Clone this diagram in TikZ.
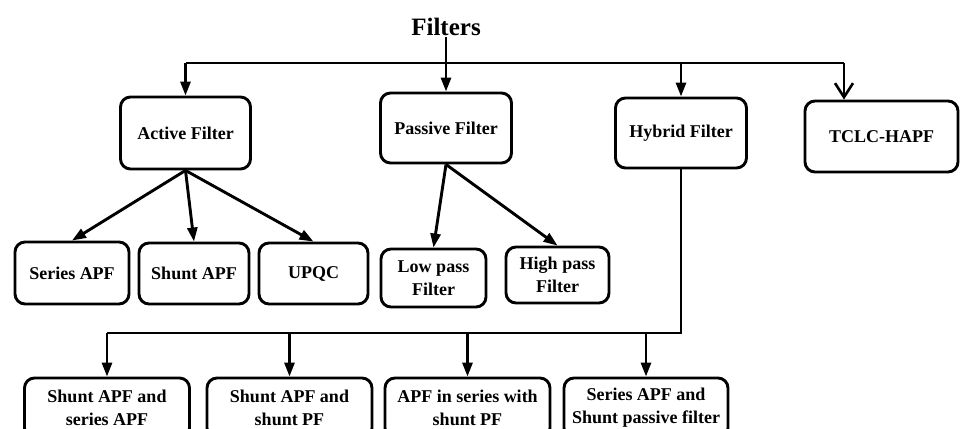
\documentclass[tikz,border=0pt]{standalone}
\usepackage{fontspec}
\setmainfont{Liberation Serif}
\usetikzlibrary{arrows.meta}

\tikzset{
  box/.style={draw, line width=2.9pt, rounded corners=10pt, align=center,
    inner sep=2pt, font=\bfseries\fontsize{18}{23}\selectfont},
  wire/.style={line width=2.9pt},
  arr/.style={wire, -{Triangle[length=14pt,width=10pt]}},
  openarr/.style={wire, -{Straight Barb[length=14pt,width=18pt,line width=2.6pt]}},
  title/.style={font=\bfseries\fontsize{25}{30}\selectfont, inner sep=1pt}
}

\begin{document}
\begin{tikzpicture}[x=1pt, y=-1pt]
  \useasboundingbox (0,0) rectangle (960,428);
  \clip (0,0) rectangle (960,428);

  % root
  \node[title] (filters) at (446,27) {Filters};

  % first level
  \node[box, minimum width=130pt, minimum height=72pt] (active)  at (185.5,133)   {Active Filter};
  \node[box, minimum width=131pt, minimum height=70pt] (passive) at (446,128)     {Passive Filter};
  \node[box, minimum width=131pt, minimum height=70pt] (hybrid)  at (681,133)     {Hybrid Filter};
  \node[box, minimum width=153pt, minimum height=71pt] (tclc)    at (881.5,136.5) {TCLC-HAPF};

  % active filter types
  \node[box, minimum width=114pt, minimum height=62pt] (series) at (72,273)    {Series APF};
  \node[box, minimum width=110pt, minimum height=61pt] (shunt)  at (194,273.5) {Shunt APF};
  \node[box, minimum width=109pt, minimum height=61pt] (upqc)   at (313.5,273.5) {UPQC};

  % passive filter types
  \node[box, minimum width=105pt, minimum height=58pt] (low)  at (433.5,278) {Low pass\\Filter};
  \node[box, minimum width=103pt, minimum height=56pt] (high) at (557.5,275) {High pass\\Filter};

  % hybrid filter types
  \node[box, minimum width=165pt, minimum height=60pt] (hA) at (107,408)   {Shunt APF and\\series APF};
  \node[box, minimum width=165pt, minimum height=60pt] (hB) at (289.5,408) {Shunt APF and\\shunt PF};
  \node[box, minimum width=165pt, minimum height=60pt] (hC) at (467.5,408) {APF in series with\\shunt PF};
  \node[box, minimum width=164pt, minimum height=60pt] (hD) at (646,408)   {Series APF and\\Shunt passive filter};

  % top distribution bus
  \coordinate (busL) at (185.5,63);
  \coordinate (busR) at (844,63);
  \draw[wire] (busL) -- (busR);
  \draw[arr] (filters.south) -- (filters.south |- passive.north);
  \draw[arr] (busL) -- (active.north);
  \draw[arr] (busL -| hybrid.north) -- (hybrid.north);
  \draw[openarr] (busR) -- (busR |- tclc.north);

  % active filter branches
  \draw[arr] (active.south) -- (series.north);
  \draw[arr] (active.south) -- (shunt.north);
  \draw[arr] (active.south) -- (upqc.north);

  % passive filter branches
  \draw[arr] (passive.south) -- (low.north);
  \draw[arr] (passive.south) -- (high.north);

  % hybrid filter bus
  \coordinate (hbus) at (107,333);
  \draw[wire] (hybrid.south) |- (hbus);
  \draw[arr] (hbus) -- (hA.north);
  \draw[arr] (hbus -| hB.north) -- (hB.north);
  \draw[arr] (hbus -| hC.north) -- (hC.north);
  \draw[arr] (hbus -| hD.north) -- (hD.north);
\end{tikzpicture}
\end{document}
